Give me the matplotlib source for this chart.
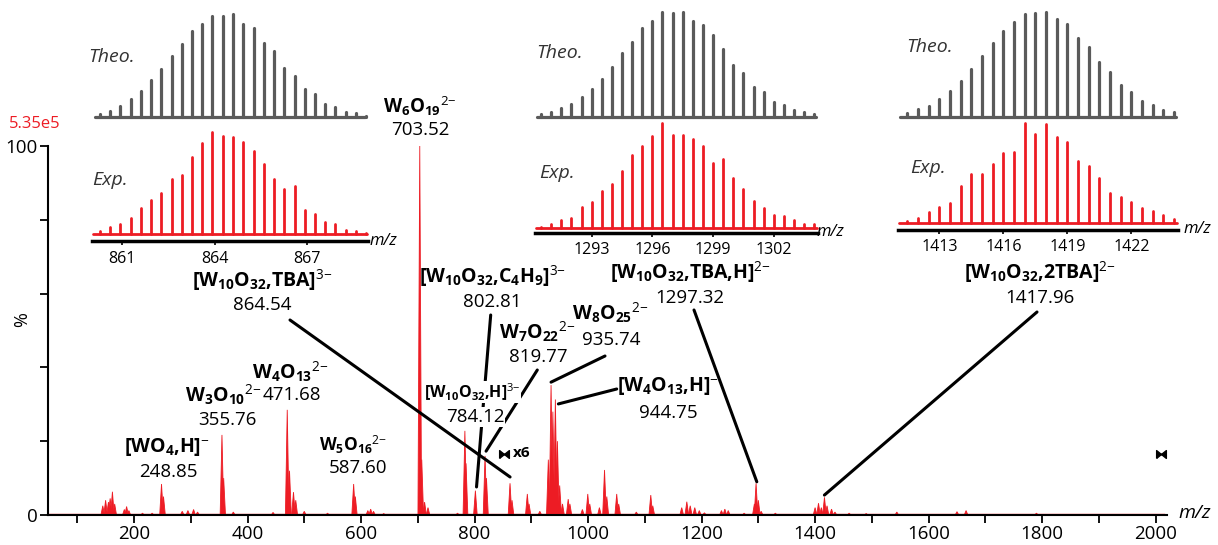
import numpy as np
import matplotlib
matplotlib.use("Agg")
import matplotlib.pyplot as plt
from matplotlib.path import Path

RED = "#ED1C24"
GREY = "#5A5A5A"
W, H = 1218, 545

plt.rcParams['font.family'] = ['Open Sans', 'DejaVu Sans']
plt.rcParams['mathtext.fontset'] = 'custom'
plt.rcParams['mathtext.rm'] = 'Open Sans'
plt.rcParams['mathtext.bf'] = 'Open Sans:bold'
plt.rcParams['mathtext.it'] = 'Open Sans:italic'

# main spectrum, peak apexes: m/z and % of base peak (5.35e5)
peak_mz = [145, 150, 155, 158, 162, 166, 183, 187, 191, 215, 232,
           248.5, 252, 285, 295, 305, 312, 355, 358, 375, 445,
           470, 474, 481, 485, 500, 541, 587, 590, 612, 617, 622, 640,
           703.5, 707, 712, 718, 770, 783, 785, 801.5, 818.5, 821,
           862.5, 866, 893, 896, 915,
           930, 934.8, 938, 942.4, 946, 950, 955, 965, 968,
           990, 999.5, 1003, 1020, 1029, 1033, 1050.5, 1054, 1085,
           1110.5, 1114, 1165, 1174, 1180, 1188, 1196, 1205,
           1235, 1241, 1247, 1275, 1293, 1296, 1300, 1305, 1330,
           1400, 1406, 1411, 1416.5, 1421, 1429, 1435, 1460, 1490,
           1544, 1650, 1666, 1790]
peak_pct = [2.5, 4, 3.5, 4.5, 6.3, 3, 1.5, 2.3, 1.2, 0.5, 0.5,
            8.4, 5, 1, 1.2, 1.5, 0.8, 21.7, 10, 0.8, 0.7,
            28.5, 12, 6.2, 4, 1, 0.5, 8.4, 5, 1.2, 1.6, 1, 0.4,
            100, 15, 3.5, 2, 0.5, 22.8, 14, 6.6, 16, 10,
            8.6, 4, 5.7, 3, 1,
            15, 35.2, 28, 31.3, 20, 8, 3, 4.3, 3,
            1.5, 5.7, 3, 2, 12.2, 5, 5.7, 3, 0.8,
            5.4, 2.5, 2, 3.6, 2.5, 2, 1.2, 0.6,
            1.2, 1.6, 1.2, 0.5, 3, 8.6, 4, 1, 0.5,
            2, 3.2, 2, 4.8, 2.5, 1.6, 0.8, 0.5, 0.4,
            0.8, 0.9, 1.2, 0.5]
magnify_mz = [852, 2010]
magnify_pct = 16.4

# isotope insets: peak m/z, theoretical and experimental relative heights
inset1_mz = [860.27, 860.60, 860.93, 861.27, 861.60, 861.93, 862.27, 862.60, 862.93,
             863.27, 863.60, 863.93, 864.27, 864.60, 864.93, 865.27, 865.60, 865.93,
             866.27, 866.60, 866.93, 867.27, 867.60, 867.93, 868.27, 868.60, 868.93]
inset1_theo = [8, 18, 32, 53, 77, 109, 142, 183, 218, 257, 277, 303, 302, 307,
               277, 265, 220, 197, 147, 123, 83, 67, 38, 30, 13, 10, 2]
inset1_exp = [10, 22, 30, 48, 78, 100, 123, 163, 176, 228, 272, 303, 292, 290,
              273, 248, 207, 165, 135, 143, 70, 60, 35, 30, 12, 10, 3]
inset1_ticks = [861, 864, 867]

inset2_mz = [1290.5, 1291.0, 1291.5, 1292.0, 1292.5, 1293.0, 1293.5, 1294.0, 1294.5,
             1295.0, 1295.5, 1296.0, 1296.5, 1297.0, 1297.5, 1298.0, 1298.5, 1299.0,
             1299.5, 1300.0, 1300.5, 1301.0, 1301.5, 1302.0, 1302.5, 1303.0, 1303.5, 1304.0]
inset2_theo = [7, 13, 25, 37, 58, 82, 114, 148, 190, 224, 265, 287, 313, 310, 315,
               287, 275, 245, 202, 155, 132, 90, 73, 45, 35, 20, 15, 7]
inset2_exp = [5, 13, 25, 32, 65, 78, 112, 132, 172, 220, 247, 277, 315, 280, 280,
              267, 247, 195, 208, 152, 118, 82, 60, 40, 37, 25, 13, 12]
inset2_ticks = [1293, 1296, 1299, 1302]

inset3_mz = [1411.5, 1412.0, 1412.5, 1413.0, 1413.5, 1414.0, 1414.5, 1415.0, 1415.5,
             1416.0, 1416.5, 1417.0, 1417.5, 1418.0, 1418.5, 1419.0, 1419.5, 1420.0,
             1420.5, 1421.0, 1421.5, 1422.0, 1422.5, 1423.0, 1423.5, 1424.0]
inset3_theo = [12, 24, 35, 55, 80, 110, 144, 185, 222, 260, 285, 310, 314, 317,
               294, 279, 237, 210, 165, 137, 97, 77, 50, 37, 22, 17]
inset3_exp = [8, 15, 33, 48, 62, 112, 148, 148, 177, 212, 214, 300, 267, 298,
              258, 245, 188, 173, 137, 92, 78, 65, 45, 37, 25, 13]
inset3_ticks = [1413, 1416, 1419, 1422]

# labels: formula, value, formula pos, value pos (figure px from top-left)
labels = [
    (r'$\mathbf{W_6O_{19}}^{2{-}}$', '703.52', (420, 106), (420, 130), 13.5),
    (r'$\mathbf{[W_{10}O_{32}{,}TBA]}^{3{-}}$', '864.54', (262, 280), (262, 305), 14),
    (r'$\mathbf{[W_{10}O_{32}{,}C_4H_9]}^{3{-}}$', '802.81', (493, 276), (492, 302), 14),
    (r'$\mathbf{W_7O_{22}}^{2{-}}$', '819.77', (537, 332), (538, 357), 14),
    (r'$\mathbf{W_8O_{25}}^{2{-}}$', '935.74', (610, 313), (611, 340), 14),
    (r'$\mathbf{[W_4O_{13}{,}H]}^{-}$', '944.75', (668, 386), (668, 413), 14),
    (r'$\mathbf{[W_{10}O_{32}{,}TBA{,}H]}^{2{-}}$', '1297.32', (690, 272), (690, 298), 14),
    (r'$\mathbf{[W_{10}O_{32}{,}2TBA]}^{2{-}}$', '1417.96', (1040, 272), (1040, 298), 14),
    (r'$\mathbf{[WO_4{,}H]}^{-}$', '248.85', (167, 447), (168, 472), 14),
    (r'$\mathbf{W_3O_{10}}^{2{-}}$', '355.76', (223, 395), (227, 420), 14),
    (r'$\mathbf{W_4O_{13}}^{2{-}}$', '471.68', (290, 372), (292, 395), 14),
    (r'$\mathbf{W_5O_{16}}^{2{-}}$', '587.60', (353, 445), (358, 468), 12.5),
]
# connector lines: start (figure px) -> peak (m/z, %)
connectors = [
    ((290, 320), (862.6, 10.3)),
    ((490.7, 315), (803.5, 7.6)),
    ((537.3, 370), (820.3, 17.3)),
    ((605, 356), (934.8, 36.0)),
    ((616.7, 389), (947.7, 30.1)),
    ((694, 310), (1297.3, 9.0)),
    ((1037, 312), (1416.4, 5.4)),
]


def fx(px):
    return px / W


def fy(py):
    return 1 - py / H


fig = plt.figure(figsize=(W / 100, H / 100), dpi=100)
ax = fig.add_axes([fx(48), fy(515), fx(1167) - fx(48), fy(146) - fy(515)])

# spectrum as narrow spikes
hw = 3.2
for c, h in zip(peak_mz, peak_pct):
    ax.fill([c - hw, c, c + hw], [0, h, 0], color=RED, lw=0.6, ec=RED, zorder=2)
ax.plot([50, 2015], [0.3, 0.3], color=RED, lw=1, zorder=2)

ax.set_xlim(48.5, 2020)
ax.set_ylim(0, 100)
for s in ['top', 'right']:
    ax.spines[s].set_visible(False)
for s in ['left', 'bottom']:
    ax.spines[s].set_linewidth(1.5)
ax.set_xticks(range(200, 2001, 200))
ax.set_xticks(range(100, 2001, 200), minor=True)
ax.set_yticks(range(0, 101, 20))
ax.set_yticklabels(['0', '', '', '', '', '100'])
ax.tick_params(which='both', direction='out', length=5.5, width=1.3,
               labelsize=13.5, pad=2)
ax.set_ylabel('%', fontsize=13, labelpad=2)
ax.yaxis.set_label_coords(-0.015, 0.53)

# magnification markers
bowtie = Path([(-1, -0.8), (1, 0.8), (1, -0.8), (-1, 0.8), (-1, -0.8)])
ax.plot(magnify_mz, [magnify_pct] * 2, ls='none', marker=bowtie,
        ms=7, color='k', clip_on=False)
fig.text(fx(522), fy(453), 'x6', fontsize=11, fontweight='bold',
         ha='center', va='center')

for (px, py), (mz, pct) in connectors:
    ax.annotate('', xy=(mz, pct), xycoords='data', xytext=(px, H - py),
                textcoords='figure pixels',
                arrowprops=dict(arrowstyle='-', color='k', lw=2.2,
                                shrinkA=0, shrinkB=0), zorder=5)

for formula, value, (px1, py1), (px2, py2), fs in labels:
    fig.text(fx(px1), fy(py1), formula, fontsize=fs, ha='center', va='center')
    fig.text(fx(px2), fy(py2), value, fontsize=13.5, ha='center', va='center')

# label sitting over the 802.81 line
fig.text(fx(472), fy(392), r'$\mathbf{[W_{10}O_{32}{,}H]}^{3{-}}$', fontsize=11.5,
         ha='center', va='center',
         bbox=dict(fc='white', ec='none', pad=0.5))
fig.text(fx(475), fy(417), '784.12', fontsize=13.5, ha='center', va='center',
         bbox=dict(fc='white', ec='none', pad=0.5))

fig.text(fx(35), fy(124), '5.35e5', color=RED, fontsize=12, ha='center', va='center')
fig.text(fx(1195), fy(513), 'm/z', fontsize=14, style='italic', ha='center', va='center')


def draw_inset(mz, theo, exp, ticks, xlim, theo_box, exp_box, exp_floor,
               theo_txt, exp_txt, mz_txt):
    # theo_box/exp_box: (left px, right px, bottom px, top px)
    l, r, b, t = theo_box
    at = fig.add_axes([fx(l), fy(b), fx(r) - fx(l), fy(t) - fy(b)])
    th = np.array(theo) / max(theo) * 100
    at.vlines(mz, 0, th, color=GREY, lw=2.3, capstyle='round', clip_on=False)
    at.plot([xlim[0] + 0.1, xlim[1] - 0.1], [0, 0], color=GREY, lw=2.3,
            solid_capstyle='round', clip_on=False)
    at.set_xlim(xlim)
    at.set_ylim(0, 100)
    at.axis('off')

    l, r, b, t = exp_box
    ae = fig.add_axes([fx(l), fy(b), fx(r) - fx(l), fy(t) - fy(b)])
    ex = np.array(exp) / max(exp) * 100
    ae.vlines(mz, 0, ex, color=RED, lw=2.0, capstyle='round', clip_on=False)
    ae.plot([xlim[0] + 0.05, xlim[1] - 0.05], [0, 0], color=RED, lw=2.0,
            solid_capstyle='round', clip_on=False)
    ae.set_xlim(xlim)
    ae.set_ylim(exp_floor, 100)
    for s in ['top', 'right', 'left']:
        ae.spines[s].set_visible(False)
    ae.spines['bottom'].set_linewidth(2.5)
    ae.set_yticks([])
    ae.set_xticks(ticks)
    ae.tick_params(axis='x', direction='out', length=3, width=1.2,
                   labelsize=11.5, pad=3.5)

    fig.text(fx(theo_txt[0]), fy(theo_txt[1]), 'Theo.', fontsize=14,
             style='italic', color='#333333', ha='center', va='center')
    fig.text(fx(exp_txt[0]), fy(exp_txt[1]), 'Exp.', fontsize=14,
             style='italic', color='#333333', ha='center', va='center')
    fig.text(fx(mz_txt[0]), fy(mz_txt[1]), 'm/z', fontsize=12,
             style='italic', ha='center', va='center')


draw_inset(inset1_mz, inset1_theo, inset1_exp, inset1_ticks, (860.0, 869.0),
           (91.7, 368.3, 116.7, 14.3), (91.7, 368.3, 241.5, 132.3), -7.5,
           (112, 57), (110, 180), (383, 241))
draw_inset(inset2_mz, inset2_theo, inset2_exp, inset2_ticks, (1290.2, 1304.2),
           (535, 818.3, 116.7, 11.7), (535, 818.3, 233.3, 123.3), -4.8,
           (560, 53), (557, 173), (830, 232))
draw_inset(inset3_mz, inset3_theo, inset3_exp, inset3_ticks, (1411.07, 1424.2),
           (898.3, 1178.3, 117.3, 11.7), (898.3, 1178.3, 230, 123.3), -6.7,
           (930, 47), (928, 168), (1197, 229))

fig.savefig('out.png', dpi=100)
